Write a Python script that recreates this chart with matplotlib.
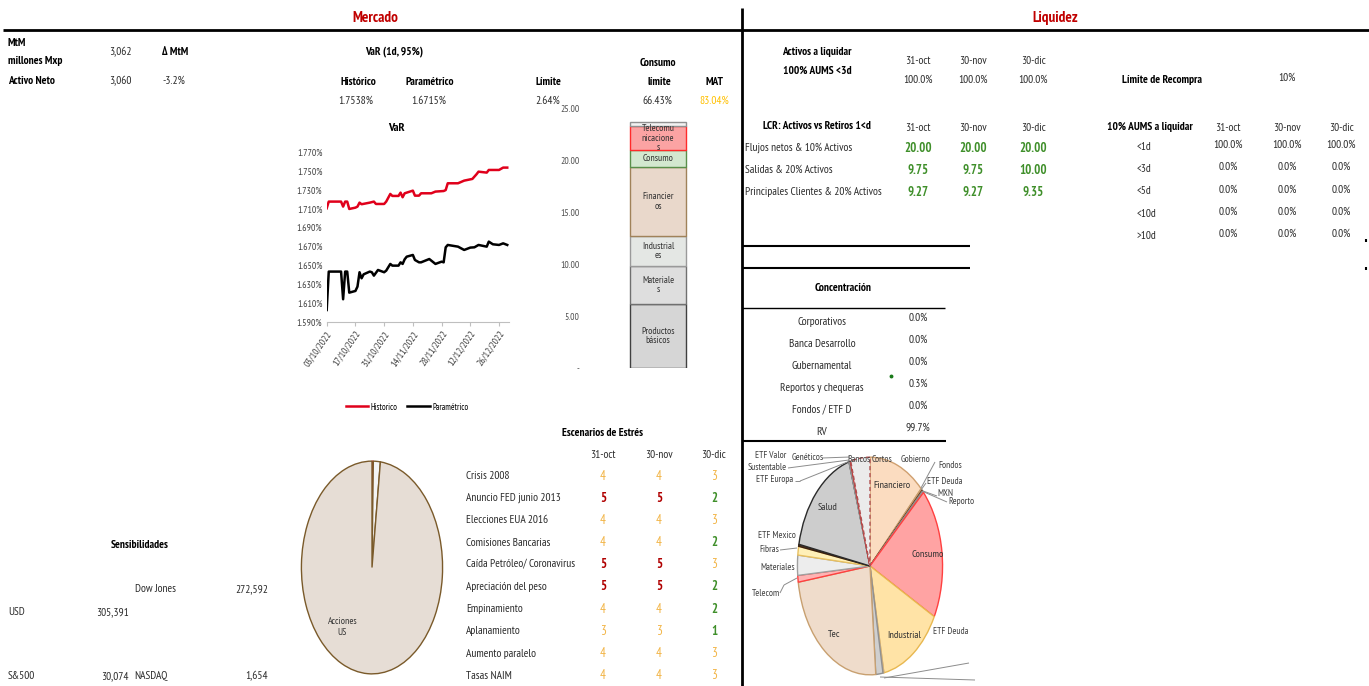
import matplotlib
matplotlib.use('Agg')
import matplotlib.pyplot as plt
import matplotlib.dates as mdates
from matplotlib.lines import Line2D
from matplotlib import font_manager as fm
import pandas as pd

W, H = 1369, 686

# ---------------- data ----------------
hist_dates = ["2022-10-03","2022-10-04","2022-10-10","2022-10-11","2022-10-12","2022-10-13","2022-10-14","2022-10-17",
              "2022-10-18","2022-10-19","2022-10-20","2022-10-24","2022-10-26","2022-10-27","2022-10-31","2022-11-01",
              "2022-11-03","2022-11-04","2022-11-07","2022-11-08","2022-11-09","2022-11-10","2022-11-11","2022-11-14",
              "2022-11-15","2022-11-17","2022-11-18","2022-11-23","2022-11-25","2022-11-29","2022-11-30","2022-12-01",
              "2022-12-06","2022-12-09","2022-12-13","2022-12-15","2022-12-16","2022-12-20","2022-12-21","2022-12-26",
              "2022-12-28","2022-12-30"]
hist_vals = [1.7107,1.7178,1.7178,1.7125,1.7178,1.7178,1.7100,1.7114,1.7125,1.7167,1.7150,1.7167,1.7178,1.7153,
             1.7153,1.7178,1.7259,1.7238,1.7238,1.7273,1.7224,1.7266,1.7273,1.7294,1.7241,1.7241,1.7266,1.7266,
             1.7284,1.7290,1.7300,1.7372,1.7372,1.7400,1.7418,1.7467,1.7495,1.7485,1.7513,1.7513,1.7538,1.7538]
param_dates = ["2022-10-03","2022-10-04","2022-10-10","2022-10-11","2022-10-12","2022-10-13","2022-10-14","2022-10-17",
               "2022-10-18","2022-10-19","2022-10-20","2022-10-21","2022-10-24","2022-10-25","2022-10-26","2022-10-28",
               "2022-10-31","2022-11-01","2022-11-03","2022-11-04","2022-11-07","2022-11-08","2022-11-09","2022-11-10",
               "2022-11-11","2022-11-14","2022-11-15","2022-11-17","2022-11-18","2022-11-22","2022-11-25","2022-11-28",
               "2022-11-29","2022-11-30","2022-12-01","2022-12-06","2022-12-09","2022-12-12","2022-12-14","2022-12-16",
               "2022-12-20","2022-12-21","2022-12-23","2022-12-26","2022-12-28","2022-12-30"]
param_vals = [1.6030,1.6437,1.6437,1.6144,1.6437,1.6437,1.6214,1.6232,1.6278,1.6430,1.6366,1.6408,1.6437,1.6430,
              1.6394,1.6454,1.6430,1.6447,1.6518,1.6500,1.6500,1.6535,1.6518,1.6567,1.6595,1.6613,1.6560,1.6535,
              1.6535,1.6570,1.6518,1.6542,1.6535,1.6694,1.6719,1.6701,1.6666,1.6691,1.6694,1.6719,1.6701,1.6754,
              1.6726,1.6719,1.6736,1.6719]
var_xticks = ["2022-10-03","2022-10-17","2022-10-31","2022-11-14","2022-11-28","2022-12-12","2022-12-26"]
var_yticks = [1.590,1.610,1.630,1.650,1.670,1.690,1.710,1.730,1.750,1.770]

sector_labels = ["Productos\nbásicos", "Materiale\ns", "Industrial\nes", "Financier\nos", "Consumo",
                 "Telecomu\nnicacione\ns", ""]
sector_vals = [6.15, 3.69, 2.84, 6.68, 1.60, 2.29, 0.38]
bar_yticks = [0, 5, 10, 15, 20, 25]
bar_yticklabels = ["-", "5.00", "10.00", "15.00", "20.00", "25.00"]

stress_rows = ["Crisis 2008", "Anuncio FED junio 2013", "Elecciones EUA 2016", "Comisiones Bancarias",
               "Caída Petróleo/ Coronavirus", "Apreciación del peso", "Empinamiento", "Aplanamiento",
               "Aumento paralelo", "Tasas NAIM"]
stress_cols = ["31-oct", "30-nov", "30-dic"]
stress_oct = [4, 5, 4, 4, 5, 5, 4, 3, 4, 4]
stress_nov = [4, 5, 4, 4, 5, 5, 4, 3, 4, 4]
stress_dic = [3, 2, 3, 2, 3, 2, 2, 1, 3, 3]

liq_cols = ["31-oct", "30-nov", "30-dic"]
liq_aums = ["100.0%", "100.0%", "100.0%"]
lcr_rows = ["Flujos netos & 10% Activos", "Salidas & 20% Activos", "Principales Clientes & 20% Activos"]
lcr_oct = ["20.00", "9.75", "9.27"]
lcr_nov = ["20.00", "9.75", "9.27"]
lcr_dic = ["20.00", "10.00", "9.35"]
rec_rows = ["<1d", "<3d", "<5d", "<10d", ">10d"]
rec_oct = ["100.0%", "0.0%", "0.0%", "0.0%", "0.0%"]
rec_nov = ["100.0%", "0.0%", "0.0%", "0.0%", "0.0%"]
rec_dic = ["100.0%", "0.0%", "0.0%", "0.0%", "0.0%"]

conc_rows = ["Corporativos", "Banca Desarrollo", "Gubernamental", "Reportos y chequeras", "Fondos / ETF D", "RV"]
conc_vals = ["0.0%", "0.0%", "0.0%", "0.3%", "0.0%", "99.7%"]

left_pie_names = ["Otros 1", "Otros 2", "Acciones\nUS"]
left_pie_vals = [0.3, 1.6, 98.1]

rp_names = ["Financiero","Gobierno","Fondos","ETF Deuda MXN","Reporto","Consumo","Industrial","ETF Deuda","Otros",
            "Tec","Telecom","Materiales","Fibras","ETF Mexico","Salud","ETF Europa","Sustentable","ETF Valor",
            "Genéticos","Bancos"]
rp_vals = [12.5,0.15,0.15,0.15,0.3,19.6,14.3,0.2,1.6,24.0,1.0,3.0,1.3,0.3,17.2,0.1,0.1,0.1,0.1,4.3]

# ---------------- font choice ----------------
weights = {}
for f in fm.fontManager.ttflist:
    wv = f.weight
    if isinstance(wv, str):
        wv = fm.weight_dict.get(wv, 400)
    weights.setdefault(f.name, set()).add(int(wv))
FONT = 'Liberation Sans'
for cand in ['Liberation Sans Narrow', 'Arial Narrow', 'PT Sans Narrow', 'Archivo Narrow', 'Roboto Condensed',
             'Pragati Narrow', 'Encode Sans Condensed', 'Open Sans Condensed']:
    ws = weights.get(cand)
    if ws and any(w <= 500 for w in ws) and any(w >= 600 for w in ws):
        FONT = cand
        break
plt.rcParams['font.family'] = [FONT, 'DejaVu Sans']

fig = plt.figure(figsize=(W / 100, H / 100), dpi=100)
fig.patch.set_facecolor('white')
_r = fig.canvas.get_renderer()
_t = fig.text(0, 0, "Principales Clientes & 20% Activos", fontsize=10)
_w = _t.get_window_extent(_r).width
_t.remove()
BODY = max(7.0, min(9.5, 10 * 137 / _w))
K = BODY / 7.5

TXT = '#2b2b2b'
RED = '#c00000'
ORANGE = '#f2b445'
GREEN = '#3f8f2a'
DRED = '#b00000'


def T(x, y, s, ha='center', va='center', size=7.5, weight='normal', color=TXT, **kw):
    fig.text(x / W, 1 - y / H, s, ha=ha, va=va, fontsize=size * K, fontweight=weight, color=color, **kw)


def L(x0, y0, x1, y1, lw=1.5, color='black'):
    fig.add_artist(Line2D([x0 / W, x1 / W], [1 - y0 / H, 1 - y1 / H], transform=fig.transFigure,
                          color=color, lw=lw, solid_capstyle='butt'))


def AX(l, t, r, b):
    return fig.add_axes([l / W, 1 - b / H, (r - l) / W, (b - t) / H])


# ---------------- frame lines ----------------
L(3, 30, W, 30, lw=2)
L(742, 8, 742, H, lw=2)
L(742, 246, 970, 246, lw=1.5)
L(742, 268, 970, 268, lw=1.5)
L(742, 308, 945, 308, lw=1)
L(742, 441, 946, 441, lw=1.5)
L(1366, 239, 1366, 242, lw=1.5)
L(1366, 267, 1366, 270, lw=1.5)

T(375, 18, "Mercado", size=10, weight='bold', color=RED)
T(1055, 18, "Liquidez", size=10, weight='bold', color=RED)

# ---------------- top-left block ----------------
T(8, 43, "MtM", ha='left', weight='bold', color='black')
T(8, 61, "millones Mxp", ha='left', weight='bold', color='black')
T(120, 52, "3,062")
T(175, 52, "Δ MtM", weight='bold', color='black')
T(8, 81, "Activo Neto", ha='left', weight='bold', color='black')
T(120, 81, "3,060")
T(174, 81, "-3.2%")

# ---------------- VaR header ----------------
T(394, 52, "VaR (1d, 95%)", weight='bold', color='black')
T(358, 82, "Histórico", weight='bold', color='black')
T(430, 82, "Paramétrico", weight='bold', color='black')
T(548, 82, "Límite", weight='bold', color='black')
T(658, 63, "Consumo", weight='bold', color='black')
T(659, 82, "límite", weight='bold', color='black')
T(714, 82, "MAT", weight='bold', color='black')
T(356, 101, "1.7538%")
T(429, 101, "1.6715%")
T(560, 101, "2.64%", ha='right')
T(657, 101, "66.43%")
T(714, 101, "83.04%", color='#ffc000')

# ---------------- VaR line chart ----------------
ax = AX(326.7, 152.3, 509.3, 322.3)
hd = pd.to_datetime(hist_dates)
pdt = pd.to_datetime(param_dates)
h_line, = ax.plot(hd, hist_vals, color='#e0001b', lw=1.8)
p_line, = ax.plot(pdt, param_vals, color='black', lw=1.8)
ax.set_ylim(var_yticks[0], var_yticks[-1])
ax.set_xlim(pd.Timestamp("2022-10-03"), pd.Timestamp("2022-12-31"))
ax.set_yticks(var_yticks)
ax.set_yticklabels([f"{v:.3f}%" for v in var_yticks])
ax.set_xticks(pd.to_datetime(var_xticks))
ax.xaxis.set_major_formatter(mdates.DateFormatter("%d/%m/%Y"))
for s in ['top', 'right', 'left']:
    ax.spines[s].set_visible(False)
ax.spines['bottom'].set_color('#bfbfbf')
ax.tick_params(axis='y', length=0, pad=3, labelsize=6.5 * K, labelcolor='#404040')
ax.tick_params(axis='x', length=3, color='#bfbfbf', pad=2, labelsize=6.5 * K, labelcolor='#404040')
for lab in ax.get_xticklabels():
    lab.set_rotation(55)
    lab.set_ha('right')
    lab.set_rotation_mode('anchor')
ax.patch.set_alpha(0)
T(396, 128, "VaR", size=8, weight='bold', color='black')
fig.legend([h_line, p_line], ["Historico", "Paramétrico"], loc='center',
           bbox_to_anchor=(407 / W, 1 - 407 / H), ncol=2, frameon=False, fontsize=5.8 * K,
           handlelength=2.6, columnspacing=1.0, handletextpad=0.3)

# ---------------- stacked bar ----------------
bx = AX(585, 108, 731, 368)
face = ['#d6d6d6', '#dedede', '#e4e7e4', '#e9d8cb', '#d3e8cf', '#fba3a3', '#f2f2f2']
edge = ['#404040', '#707070', '#9a9a9a', '#a0825a', '#5a8f4a', '#ff2a2a', '#909090']
bottom = 0
for v, lab, fc, ec in zip(sector_vals, sector_labels, face, edge):
    bx.bar(0.5, v, width=0.384, bottom=bottom, color=fc, edgecolor=ec, linewidth=1.0)
    if lab:
        bx.text(0.5, bottom + v / 2, lab, ha='center', va='center', fontsize=6.5 * K, color='#333333',
                linespacing=1.1)
    bottom += v
bx.set_xlim(0, 1)
bx.set_ylim(0, 25)
bx.set_yticks(bar_yticks)
bx.set_yticklabels(bar_yticklabels)
bx.set_xticks([])
for s in bx.spines.values():
    s.set_visible(False)
bx.tick_params(axis='y', length=0, pad=4, labelsize=6.5 * K, labelcolor='#505050')
bx.patch.set_alpha(0)

# ---------------- stress table ----------------
T(603, 433, "Escenarios de Estrés", weight='bold', color='black')
col_x = [603, 659, 714]
for cx, c in zip(col_x, stress_cols):
    T(cx, 455, c)


def stress_style(v):
    if v >= 5:
        return DRED, 'bold'
    if v >= 3:
        return ORANGE, 'normal'
    return GREEN, 'bold'


for i, name in enumerate(stress_rows):
    y = 476 + i * 22.2
    T(466, y, name, ha='left')
    for cx, v in zip(col_x, [stress_oct[i], stress_nov[i], stress_dic[i]]):
        c, w = stress_style(v)
        T(cx, y, str(v), color=c, weight=w, size=8.5)

# ---------------- left pie ----------------
lp = AX(300, 459, 444, 676)
wl, _ = lp.pie(left_pie_vals, startangle=90, counterclock=False,
               colors=['#c85050', '#f4f4f4', '#e6ddd5'],
               wedgeprops=dict(edgecolor='#7a5a2a', linewidth=1.0))
wl[0].set_edgecolor('#c03030')
lp.set_aspect('auto')
lp.set_xlim(-1.02, 1.02)
lp.set_ylim(-1.02, 1.02)
lp.text(-0.42, -0.56, left_pie_names[2], ha='center', va='center', fontsize=6.5 * K, color='#333333')

# ---------------- Sensibilidades ----------------
T(140, 545, "Sensibilidades", weight='bold', color='black')
T(135, 589, "Dow Jones", ha='left')
T(268, 589, "272,592", ha='right')
T(8, 612, "USD", ha='left')
T(129, 612, "305,391", ha='right')
T(8, 676, "S&500", ha='left')
T(129, 676, "30,074", ha='right')
T(134, 676, "NASDAQ", ha='left')
T(268, 676, "1,654", ha='right')

# ---------------- Liquidez ----------------
T(817, 52, "Activos a liquidar", weight='bold', color='black')
T(817, 71, "100% AUMS <3d", weight='bold', color='black')
lx = [918, 973, 1033]
for cx, c, v in zip(lx, liq_cols, liq_aums):
    T(cx, 61, c)
    T(cx, 80, v)
T(817, 126, "LCR: Activos vs Retiros 1<d", weight='bold', color='black')
for cx, c in zip(lx, liq_cols):
    T(cx, 128, c)
for i, name in enumerate(lcr_rows):
    y = 148 + i * 22
    T(745, y, name, ha='left')
    for cx, v in zip(lx, [lcr_oct[i], lcr_nov[i], lcr_dic[i]]):
        T(cx, y, v, weight='bold', color=GREEN, size=8.5)

T(1162, 80, "Límite de Recompra", weight='bold', color='black')
T(1287, 78, "10%")
T(1150, 127, "10% AUMS a liquidar", weight='bold', color='black')
rx = [1228, 1287, 1341]
for cx, c in zip(rx, liq_cols):
    T(cx, 128, c)
for i, name in enumerate(rec_rows):
    y = 147 + i * 22.2
    T(1137, y, name, ha='left')
    for cx, v in zip(rx, [rec_oct[i], rec_nov[i], rec_dic[i]]):
        T(cx, y - 2, v)

# ---------------- Concentración ----------------
T(843, 288, "Concentración", weight='bold', color='black')
for i, (name, v) in enumerate(zip(conc_rows, conc_vals)):
    y = 322 + i * 22
    T(822, y, name)
    T(918, y - 4, v)
fig.add_artist(Line2D([891 / W], [1 - 376 / H], transform=fig.transFigure, marker='o', ms=1.8,
                      color='#1a7a1a', lw=0))

# ---------------- right pie ----------------
rp = AX(796, 455, 944, 677)
rp_face = ['#fbdcc0', '#e8d0b0', '#d9c0a0', '#8b5a2b', '#c0c0c0', '#ffa3a3', '#ffe3a6', '#f0e0c0', '#cfcfcf',
           '#efdccb', '#ffb3b3', '#ededed', '#fff0b8', '#5a3a2a', '#cdcdcd', '#ededed', '#e0e0e0', '#d0d0d0',
           '#a05050', '#ebebeb']
rp_edge = ['#d0a070', '#c8a070', '#c8a070', '#6b3a1b', '#909090', '#ff4040', '#e8b850', '#d0b080', '#909090',
           '#c8a070', '#ff4040', '#a0a0a0', '#e8c060', '#3a2010', '#2a2a2a', '#909090', '#909090', '#909090',
           '#c04040', '#b05050']
inside = {"Financiero", "Consumo", "Industrial", "Tec", "Salud"}
wr, tr = rp.pie(rp_vals, startangle=90, counterclock=False, colors=rp_face,
                labels=[n if n in inside else "" for n in rp_names], labeldistance=0.8,
                textprops=dict(fontsize=6.8 * K, color='#333333', ha='center', va='center'),
                wedgeprops=dict(linewidth=1.0))
for w_, ec in zip(wr, rp_edge):
    w_.set_edgecolor(ec)
wr[-1].set_linestyle((0, (3, 2)))
rp.set_aspect('auto')
rp.set_xlim(-1.02, 1.02)
rp.set_ylim(-1.02, 1.02)

PL = '#404040'
LC = '#8c8c8c'
PS = 6.3
T(901, 459, "Gobierno", ha='left', size=PS, color=PL)
T(938, 465, "Fondos", ha='left', size=PS, color=PL)
T(927, 482, "ETF Deuda", ha='left', size=PS, color=PL)
T(937, 493, "MXN", ha='left', size=PS, color=PL)
T(948, 502, "Reporto", ha='left', size=PS, color=PL)
T(933, 631, "ETF Deuda", ha='left', size=PS, color=PL)
T(796, 535, "ETF Mexico", ha='right', size=PS, color=PL)
T(779, 550, "Fibras", ha='right', size=PS, color=PL)
T(795, 568, "Materiales", ha='right', size=PS, color=PL)
T(780, 593, "Telecom", ha='right', size=PS, color=PL)
T(793, 480, "ETF Europa", ha='right', size=PS, color=PL)
T(787, 468, "Sustentable", ha='right', size=PS, color=PL)
T(786, 456, "ETF Valor", ha='right', size=PS, color=PL)
T(792, 458, "Genéticos", ha='left', size=PS, color=PL)
T(847, 459, "Bancos", ha='left', size=PS, color=PL)
T(872, 459, "Cortos", ha='left', size=PS, color=PL)
# leader lines
L(935, 462, 921, 488, lw=0.7, color=LC)
L(926, 483, 921, 490, lw=0.7, color=LC)
L(937, 496, 923, 491, lw=0.7, color=LC)
L(947, 502, 924, 492, lw=0.7, color=LC)
L(780, 550, 797, 548, lw=0.7, color=LC)
L(780, 593, 784, 585, lw=0.7, color=LC)
L(784, 585, 797, 578, lw=0.7, color=LC)
L(795, 481, 800, 481, lw=0.7, color=LC)
L(800, 481, 850, 461, lw=0.7, color=LC)
L(788, 468, 849, 460, lw=0.7, color=LC)
L(822, 458, 850, 457, lw=0.7, color=LC)
L(884, 678, 969, 663, lw=0.7, color=LC)
L(880, 677, 975, 680, lw=0.7, color=LC)

fig.savefig("out.png", dpi=100, facecolor='white')
